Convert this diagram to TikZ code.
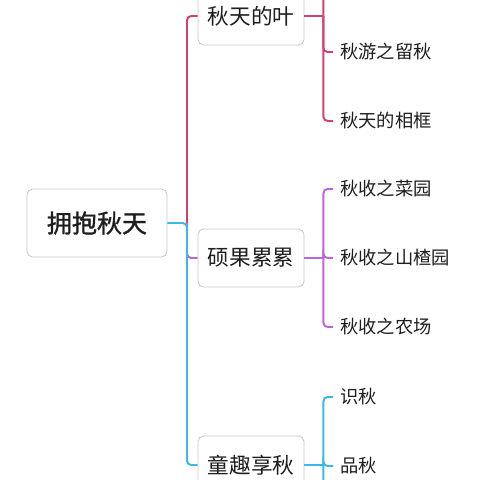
\documentclass[tikz,border=0pt]{standalone}
\usepackage{fontspec}
\newfontfamily\cjk{Noto Sans CJK SC}
\newfontfamily\cjkroot[FakeBold=1.2]{Noto Sans CJK SC}
\usetikzlibrary{positioning}
\definecolor{LeafRed}{HTML}{D43F74}
\definecolor{FruitPurple}{HTML}{B867DB}
\definecolor{PlayBlue}{HTML}{3BB8E6}
\definecolor{BoxGray}{HTML}{C8C8C8}
\definecolor{Ink}{HTML}{1E1E1E}

\begin{document}
\begin{tikzpicture}[
  x=0.025cm,y=-0.025cm,
  root/.style={draw=BoxGray,line width=0.6pt,rounded corners=4pt,fill=white,text=Ink,minimum width=35mm,minimum height=17mm,font=\cjkroot\fontsize{17.8}{20}\selectfont},
  topic/.style={draw=BoxGray,line width=0.6pt,rounded corners=4pt,fill=white,text=Ink,minimum width=26.5mm,minimum height=14.5mm,font=\cjk\fontsize{15.4}{18}\selectfont},
  leaf/.style={anchor=west,inner sep=1.75mm,text=Ink,font=\cjk\fontsize{13}{16}\selectfont},
  link/.style={line width=1.4pt,rounded corners=3pt}
]
\useasboundingbox (0,0) rectangle (480,480);
\clip (0,0) rectangle (480,480);
\node[root] (root) at (97,223) {拥抱秋天};
\node[topic] (leaf) at (251,16) {秋天的叶};
\node[topic] (fruit) at (251,258) {硕果累累};
\node[topic] (play) at (251,465) {童趣享秋};
% leaves
\coordinate (l1) at (333,-17);
\node[leaf] (l2) at (333,52) {秋游之留秋};
\node[leaf] (l3) at (333,121) {秋天的相框};
\node[leaf] (f1) at (333,189) {秋收之菜园};
\node[leaf] (f2) at (333,258) {秋收之山楂园};
\node[leaf] (f3) at (333,327) {秋收之农场};
\node[leaf] (p1) at (333,397) {识秋};
\node[leaf] (p2) at (333,466) {品秋};
\coordinate (p3) at (333,535);
% main branches
\coordinate (j) at (187,223);
\draw[link,draw=LeafRed] (j) |- (leaf.west);
\draw[link,draw=FruitPurple] (j) |- (fruit.west);
\draw[link,draw=PlayBlue] (root.east) -- (j) |- (play.west);
% sub branches
\draw[link,draw=LeafRed] (leaf.east) -- ++(19,0) coordinate (lk);
\draw[link,draw=LeafRed] (lk) |- (l1);
\draw[link,draw=LeafRed] (lk) |- (l2.west);
\draw[link,draw=LeafRed] (lk) |- (l3.west);
\draw[link,draw=FruitPurple] (fruit.east) -- ++(19,0) coordinate (fk);
\foreach \n in {f1,f2,f3}
  \draw[link,draw=FruitPurple] (fk) |- (\n.west);
\draw[link,draw=PlayBlue] (play.east) -- ++(19,0) coordinate (pk);
\draw[link,draw=PlayBlue] (pk) |- (p1.west);
\draw[link,draw=PlayBlue] (pk) |- (p2.west);
\draw[link,draw=PlayBlue] (pk) |- (p3);
\end{tikzpicture}
\end{document}
